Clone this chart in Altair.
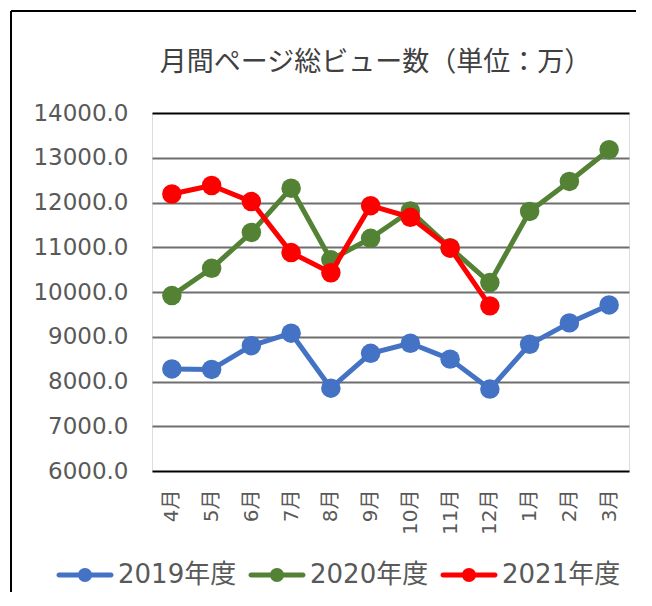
import altair as alt
import pandas as pd

months = ["4月", "5月", "6月", "7月", "8月", "9月", "10月", "11月", "12月", "1月", "2月", "3月"]
series = ["2019年度", "2020年度", "2021年度"]
colors = ["#4472C4", "#548235", "#FF0000"]
v2019 = [8280, 8270, 8800, 9080, 7850, 8630, 8855, 8500, 7830, 8830, 9310, 9710]
v2020 = [9920, 10530, 11330, 12320, 10720, 11200, 11810, 10990, 10210, 11800, 12470, 13180]
v2021 = [12190, 12380, 12020, 10880, 10430, 11930, 11670, 10980, 9690]
y_ticks = [6000, 7000, 8000, 9000, 10000, 11000, 12000, 13000, 14000]

rows = []
for name, vals in zip(series, [v2019, v2020, v2021]):
    for m, v in zip(months, vals):
        rows.append({"month": m, "year": name, "value": v})
df = pd.DataFrame(rows)

LATIN = "DejaVu Sans, Noto Sans CJK JP"

# filled legend glyph: a rounded bar with a dot in the middle
legend_path = (
    "M-2.6,-0.25L2.6,-0.25A0.25,0.25,0,0,1,2.6,0.25L-2.6,0.25A0.25,0.25,0,0,1,-2.6,-0.25Z"
    "M-0.7,0A0.7,0.7,0,1,1,0.7,0A0.7,0.7,0,1,1,-0.7,0Z"
)

color_scale = alt.Scale(domain=series, range=colors)
color = alt.Color(
    "year:N",
    scale=color_scale,
    legend=alt.Legend(
        title=None,
        orient="none",
        legendX=-80,
        legendY=449,
        direction="horizontal",
        symbolType=legend_path,
        symbolSize=400,
        symbolStrokeWidth=0,
        symbolOpacity=1,
        labelFont=LATIN,
        labelFontSize=26,
        labelColor="#595959",
        labelOffset=20,
        columnPadding=11,
        padding=0,
        labelLimit=300,
    ),
)

x = alt.X(
    "month:O",
    sort=months,
    scale=alt.Scale(type="point", padding=0.5),
    axis=alt.Axis(
        title=None,
        labelAngle=270,
        labelFont=LATIN,
        labelFontSize=20,
        labelColor="#595959",
        labelPadding=18,
        ticks=False,
        domain=False,
        grid=False,
    ),
)
y = alt.Y(
    "value:Q",
    scale=alt.Scale(domain=[6000, 14000], nice=False, zero=False),
    axis=alt.Axis(
        title=None,
        values=y_ticks,
        format=".1f",
        labelFont="DejaVu Sans",
        labelFontSize=23,
        labelColor="#595959",
        labelPadding=24,
        ticks=False,
        domain=False,
        grid=True,
        gridColor=alt.condition(
            "datum.value == 6000 || datum.value == 14000",
            alt.value("#000000"),
            alt.value("#6e6e6e"),
        ),
        gridWidth=2,
    ),
)

base = alt.Chart(df).encode(x=x, y=y, color=color)

layers = []
for name in series:
    sub = base.transform_filter(alt.datum.year == name)
    layers.append(sub.mark_line(strokeWidth=5, strokeJoin="round", strokeCap="round"))
    layers.append(sub.mark_circle(size=380, opacity=1))

frame_df = pd.DataFrame({"a": [0]})
left_edge = alt.Chart(frame_df).mark_rule(color="black", strokeWidth=2).encode(
    x=alt.value(-141), y=alt.value(-102), y2=alt.value(483)
)
top_edge = alt.Chart(frame_df).mark_rule(color="black", strokeWidth=2).encode(
    x=alt.value(-141), x2=alt.value(484), y=alt.value(-102)
)

chart = (
    alt.layer(left_edge, top_edge, *layers)
    .properties(
        width=477,
        height=358,
        autosize=alt.AutoSizeParams(type="none"),
        padding={"left": 144, "top": 105, "right": 15, "bottom": 121},
        title=alt.Title(
            "月間ページ総ビュー数（単位：万）",
            font="Noto Sans CJK JP",
            fontSize=27,
            fontWeight="normal",
            color="#404040",
            anchor="middle",
            baseline="bottom",
            dx=-15,
            offset=-94,
        ),
    )
    .configure_view(stroke="black", strokeWidth=2)
    .configure(background="white")
)

chart.save("out.html", embed_options={"renderer": "svg", "actions": False})
